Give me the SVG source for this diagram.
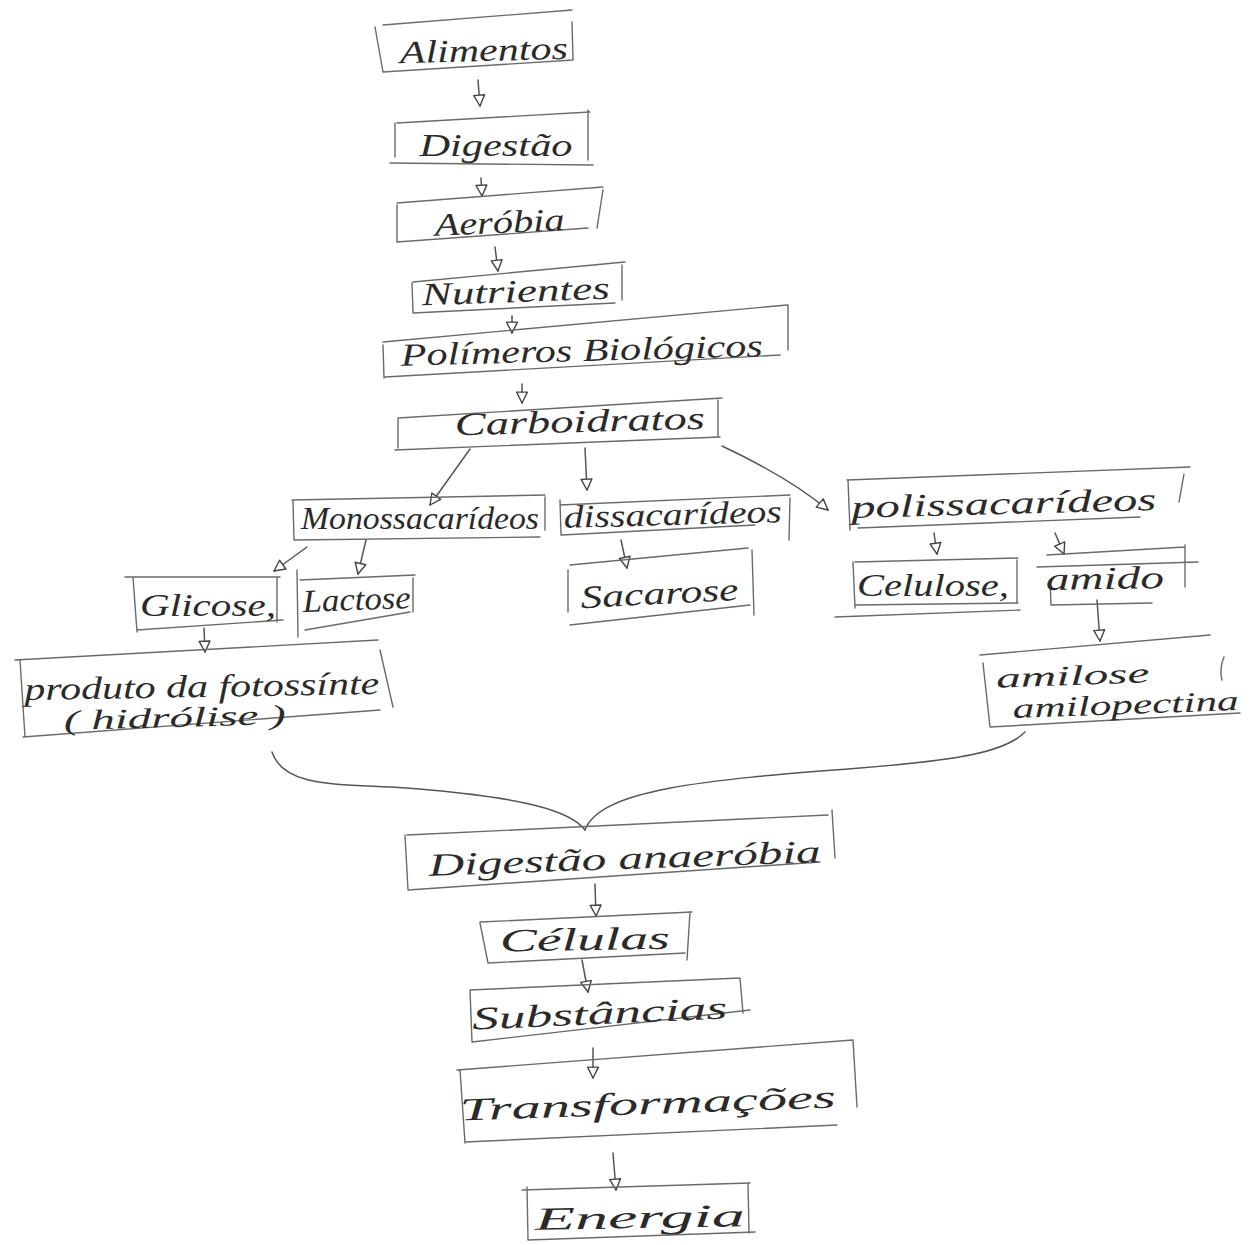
<svg xmlns="http://www.w3.org/2000/svg" width="1256" height="1245" viewBox="0 0 1256 1245">
  <style>
    .bg { fill: #ffffff; }
    .box { fill: none; stroke: #6a6a6a; stroke-width: 1.4; stroke-linecap: round; }
    .lbl { font-family: "Liberation Serif", "DejaVu Serif", serif; font-style: italic; font-size: 32px; fill: #2a2a2a; text-anchor: middle; }
    .sm { font-size: 28px; }
    .link { fill: none; stroke: #555555; stroke-width: 1.5; stroke-linecap: round; }
  </style>
  <defs>
    <!-- small open triangular arrowhead -->
    <marker id="tri" viewBox="0 0 12 12" refX="11" refY="6" markerWidth="13" markerHeight="13" markerUnits="userSpaceOnUse" orient="auto">
      <path d="M1,1 L11,6 L1,11 Z" fill="#ffffff" stroke="#444444" stroke-width="1.3" stroke-linejoin="round"/>
    </marker>
  </defs>
  <rect class="bg" x="0" y="0" width="1256" height="1245"/>

  <!-- connectors -->
  <g id="connectors">
    <path class="link" d="M478,80 L480,106" marker-end="url(#tri)"/>
    <path class="link" d="M481,178 L482,196" marker-end="url(#tri)"/>
    <path class="link" d="M495,247 L498,271" marker-end="url(#tri)"/>
    <path class="link" d="M512,316 L512,333" marker-end="url(#tri)"/>
    <path class="link" d="M522,384 L522,403" marker-end="url(#tri)"/>
    <path class="link" d="M470,449 L430,505" marker-end="url(#tri)"/>
    <path class="link" d="M585,448 L587,490" marker-end="url(#tri)"/>
    <path class="link" d="M722,446 Q790,478 828,510" marker-end="url(#tri)"/>
    <path class="link" d="M366,540 L358,574" marker-end="url(#tri)"/>
    <path class="link" d="M307,547 L274,571" marker-end="url(#tri)"/>
    <path class="link" d="M204,628 L205,652" marker-end="url(#tri)"/>
    <path class="link" d="M621,540 L627,568" marker-end="url(#tri)"/>
    <path class="link" d="M934,533 L937,554" marker-end="url(#tri)"/>
    <path class="link" d="M1055,533 L1064,554" marker-end="url(#tri)"/>
    <path class="link" d="M1097,600 L1100,641" marker-end="url(#tri)"/>
    <!-- joining brace -->
    <path class="link" d="M272,752 C285,792 350,782 430,790 C520,798 570,810 585,830"/>
    <path class="link" d="M1025,732 C1005,752 960,760 860,768 C700,780 600,790 585,830"/>
    <path class="link" d="M595,884 L596,916" marker-end="url(#tri)"/>
    <path class="link" d="M582,960 L588,992" marker-end="url(#tri)"/>
    <path class="link" d="M593,1048 L593,1078" marker-end="url(#tri)"/>
    <path class="link" d="M613,1153 L616,1190" marker-end="url(#tri)"/>
  </g>

  <g id="alimentos">
    <path class="box" d="M375,27 L383,72 M383,25 L572,10 M572,22 L573,60 M383,72 L573,60"/>
    <text class="lbl" x="484" y="61" textLength="168" lengthAdjust="spacingAndGlyphs" transform="rotate(-1.5 484 61)">Alimentos</text>
  </g>
  <g id="digestao">
    <path class="box" d="M395,123 L395,157 M397,123 L590,112 M588,110 L588,160 M390,163 L593,165"/>
    <text class="lbl" x="496" y="156" textLength="153" lengthAdjust="spacingAndGlyphs">Digestão</text>
  </g>
  <g id="aerobia">
    <path class="box" d="M397,205 L397,242 M397,203 L603,187 M603,190 L597,228 M397,242 L588,228"/>
    <text class="lbl" x="500" y="233" textLength="130" lengthAdjust="spacingAndGlyphs" transform="rotate(-2.5 500 233)">Aeróbia</text>
  </g>
  <g id="nutrientes">
    <path class="box" d="M412,283 L413,312 M413,282 L625,262 M622,265 L622,300 M413,313 L615,303"/>
    <text class="lbl" x="516" y="302" textLength="188" lengthAdjust="spacingAndGlyphs" transform="rotate(-2 516 302)">Nutrientes</text>
  </g>
  <g id="polimeros">
    <path class="box" d="M383,345 L384,378 M383,342 L787,305 M788,305 L788,350 M385,377 L780,355"/>
    <text class="lbl" x="582" y="361" textLength="362" lengthAdjust="spacingAndGlyphs" transform="rotate(-1.5 582 361)">Polímeros Biológicos</text>
  </g>
  <g id="carboidratos">
    <path class="box" d="M398,418 L398,448 M398,418 L722,398 M718,400 L718,437 M395,450 L720,437"/>
    <text class="lbl" x="580" y="432" textLength="250" lengthAdjust="spacingAndGlyphs" transform="rotate(-1.5 580 432)">Carboidratos</text>
  </g>
  <g id="monossacarideos">
    <path class="box" d="M293,500 L294,540 M292,500 L545,495 M545,497 L545,530 M295,540 L540,537"/>
    <text class="lbl" x="420" y="529" textLength="238" lengthAdjust="spacingAndGlyphs">Monossacarídeos</text>
  </g>
  <g id="dissacarideos">
    <path class="box" d="M560,500 L561,535 M560,505 L790,495 M790,498 L789,540 M562,535 L755,525"/>
    <text class="lbl" x="673" y="525" textLength="218" lengthAdjust="spacingAndGlyphs" transform="rotate(-1.5 673 525)">dissacarídeos</text>
  </g>
  <g id="polissacarideos">
    <path class="box" d="M848,480 L850,530 M847,480 L1190,467 M1184,474 L1179,502 M858,528 L1140,517"/>
    <text class="lbl" x="1004" y="514" textLength="305" lengthAdjust="spacingAndGlyphs" transform="rotate(-1.5 1004 514)">polissacarídeos</text>
  </g>
  <g id="glicose">
    <path class="box" d="M133,577 L137,632 M125,577 L280,577 M277,577 L277,622 M137,630 L283,620"/>
    <text class="lbl" x="208" y="616" textLength="136" lengthAdjust="spacingAndGlyphs">Glicose,</text>
  </g>
  <g id="lactose">
    <path class="box" d="M297,570 L298,637 M300,580 L415,575 M413,578 L413,612 M305,630 L410,612"/>
    <text class="lbl" x="357" y="610" textLength="108" lengthAdjust="spacingAndGlyphs" transform="rotate(-2 357 610)">Lactose</text>
  </g>
  <g id="fotossintese">
    <path class="box" d="M20,660 L25,737 M15,660 L378,640 M380,650 L393,707 M23,737 L380,710"/>
    <text class="lbl" x="202" y="697" textLength="355" lengthAdjust="spacingAndGlyphs" transform="rotate(-1 202 697)">produto da fotossínte</text>
    <text class="lbl sm" x="175" y="727" textLength="222" lengthAdjust="spacingAndGlyphs" transform="rotate(-1.5 175 727)">( hidrólise )</text>
  </g>
  <g id="sacarose">
    <path class="box" d="M568,570 L568,612 M570,565 L748,548 M752,550 L754,615 M570,625 L750,605"/>
    <text class="lbl" x="660" y="604" textLength="158" lengthAdjust="spacingAndGlyphs" transform="rotate(-3 660 604)">Sacarose</text>
  </g>
  <g id="celulose">
    <path class="box" d="M853,562 L855,608 M855,562 L1018,558 M1017,560 L1017,603 M855,605 L1018,603 M835,617 L1020,610"/>
    <text class="lbl" x="933" y="596" textLength="152" lengthAdjust="spacingAndGlyphs">Celulose,</text>
  </g>
  <g id="amido">
    <path class="box" d="M1047,555 L1185,547 M1037,567 L1198,562 M1185,545 L1185,587 M1050,580 L1051,605 M1051,605 L1152,603"/>
    <text class="lbl" x="1105" y="589" textLength="118" lengthAdjust="spacingAndGlyphs" transform="rotate(-1 1105 589)">amido</text>
  </g>
  <g id="amilose">
    <path class="box" d="M980,655 L1210,635 M983,663 L990,727 M990,727 L1240,713 M1224,657 Q1219,668 1222,680"/>
    <text class="lbl sm" x="1073" y="685" textLength="153" lengthAdjust="spacingAndGlyphs" transform="rotate(-2 1073 685)">amilose</text>
    <text class="lbl sm" x="1126" y="714" textLength="226" lengthAdjust="spacingAndGlyphs" transform="rotate(-2 1126 714)">amilopectina</text>
  </g>
  <g id="digestao-anaerobia">
    <path class="box" d="M405,835 L408,890 M407,835 L828,815 M832,810 L835,858 M408,890 L820,862"/>
    <text class="lbl" x="625" y="869" textLength="392" lengthAdjust="spacingAndGlyphs" transform="rotate(-2 625 869)">Digestão anaeróbia</text>
  </g>
  <g id="celulas">
    <path class="box" d="M480,923 L488,963 M480,922 L692,912 M690,912 L687,960 M488,963 L685,953"/>
    <text class="lbl" x="585" y="950" textLength="170" lengthAdjust="spacingAndGlyphs" transform="rotate(-1 585 950)">Células</text>
  </g>
  <g id="substancias">
    <path class="box" d="M470,990 L472,1042 M470,990 L740,978 M740,978 L743,1013 M472,1042 L750,1010"/>
    <text class="lbl" x="600" y="1024" textLength="255" lengthAdjust="spacingAndGlyphs" transform="rotate(-2.5 600 1024)">Substâncias</text>
  </g>
  <g id="transformacoes">
    <path class="box" d="M457,1070 L853,1040 M460,1070 L465,1143 M853,1040 L857,1107 M465,1142 L837,1125"/>
    <text class="lbl" x="648" y="1114" textLength="376" lengthAdjust="spacingAndGlyphs" transform="rotate(-2 648 1114)">Transformações</text>
  </g>
  <g id="energia">
    <path class="box" d="M527,1187 L528,1240 M522,1190 L750,1183 M748,1183 L749,1233 M528,1240 L755,1232"/>
    <text class="lbl" x="640" y="1228" textLength="210" lengthAdjust="spacingAndGlyphs" transform="rotate(-1 640 1228)">Energia</text>
  </g>
</svg>
